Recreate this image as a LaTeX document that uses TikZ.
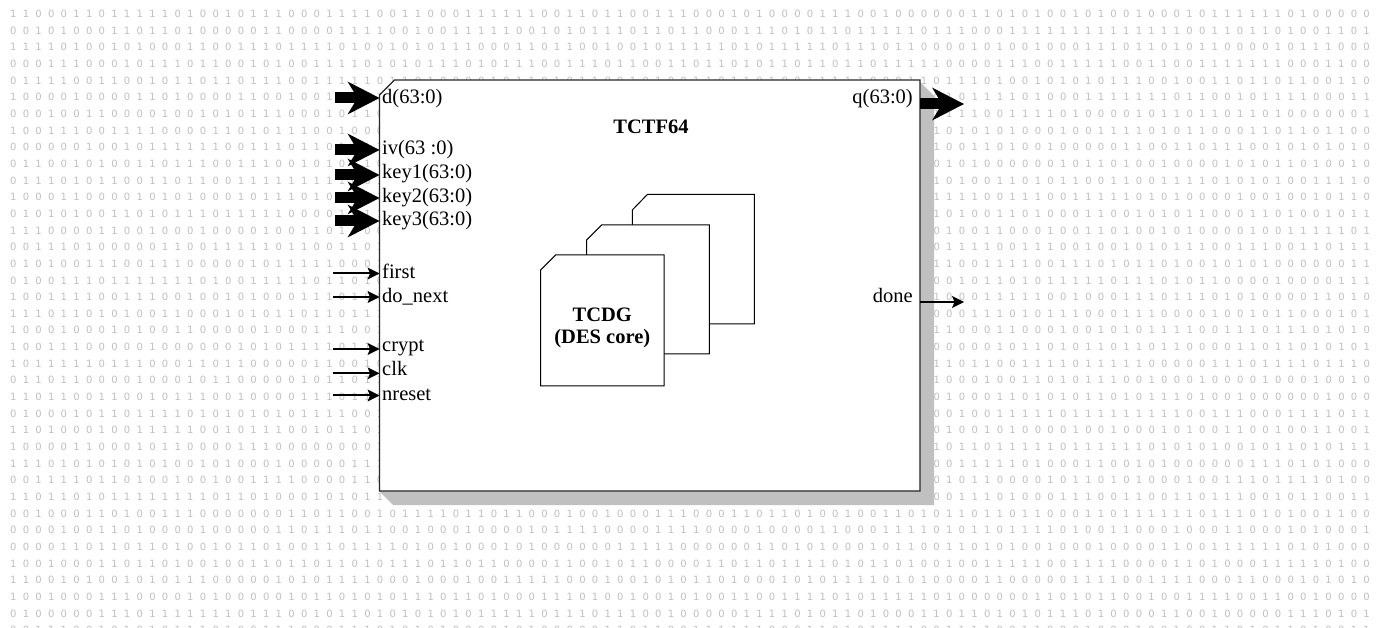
\documentclass[tikz,border=0pt]{standalone}
\usepackage{fontspec}
\setmainfont{Liberation Serif}
\newfontfamily\bgfont{DejaVu Sans}
\usetikzlibrary{arrows.meta,calc}
\definecolor{bgdigit}{RGB}{192,192,192}
\definecolor{shadowgray}{RGB}{192,192,192}
\protected\def\dg#1{\hbox to 12.65pt{\hss#1\hss}}
\tikzset{
  bgrow/.style={anchor=west, inner sep=0pt, outer sep=0pt, text=bgdigit, font=\bgfont\fontsize{10}{12}\selectfont},
  boxline/.style={draw=black!85, line width=1.2pt},
  cardline/.style={draw=black, line width=1pt, fill=white},
  lab/.style={anchor=base west, inner sep=0pt, font=\fontsize{20.5}{24}\selectfont},
  rlab/.style={anchor=base east, inner sep=0pt, font=\fontsize{20.5}{24}\selectfont},
  title/.style={anchor=base, inner sep=0pt, font=\bfseries\fontsize{20.5}{24}\selectfont},
  busarr/.style={draw=black, line width=11pt, -{Stealth[length=32pt, width=33pt, inset=10pt, line width=0pt]}},
  sigarr/.style={draw=black, line width=2pt, -{Stealth[length=12pt, width=12pt, inset=2.5pt, line width=0pt]}}
}
\begin{document}
\begin{tikzpicture}[x=1pt,y=-1pt]
\useasboundingbox[fill=white] (0,0) rectangle (1377,628);
% background binary texture (digits hidden under the block are left out)
\pgfmathsetseed{1377}
\foreach \r in {0,...,37}{
  \pgfmathsetmacro\rowy{14+16.65*\r}
  \gdef\rowtxt{}
  \foreach \c in {1,...,108}{
    \pgfmathrandominteger{\rdig}{0}{1}
    \pgfmathsetmacro\colx{7+12.65*(\c-0.5)}
    \pgfmathtruncatemacro\hidden{and(and(\rowy>84,\rowy<501),and(\colx>384,\colx<930))}
    \ifnum\hidden=1
      \xdef\rowtxt{\rowtxt\noexpand\dg{}}
    \else
      \xdef\rowtxt{\rowtxt\noexpand\dg{\rdig}}
    \fi
  }
  \node[bgrow] (bg\r) at (7,\rowy) {\rowtxt};
}
% main block
\node[minimum width=540.5pt, minimum height=411pt, inner sep=0pt, outer sep=0pt] (box) at (649.75,285.5) {};
\fill[shadowgray] ([yshift=-2pt]box.north east) -- ++(14,14) -- ++(0,409) -- ++(-541,0) -- ++(-14,-14) -- (box.south east) -- cycle;
\draw[boxline, fill=white] ([xshift=15pt]box.north west) -- (box.north east) -- (box.south east) -- (box.south west) -- ([yshift=-15pt]box.north west) -- cycle;
\node[title] (ttl) at (651,134) {TCTF64};
% stacked DES cores
\draw[cardline] (632.3,210) -- (647.5,194.3) -- (754.3,194.3) -- (754.3,324) -- (632.3,324) -- cycle;
\draw[cardline] (586.7,240) -- (601.7,225) -- (709.3,225) -- (709.3,354) -- (586.7,354) -- cycle;
\draw[cardline] (540.7,270) -- (555.7,255) -- (664,255) -- (664,386) -- (540.7,386) -- cycle;
\node[title] (core1) at (602.3,322) {TCDG};
\node[title] (core2) at (602.3,343.5) {(DES core)};
% port labels
\node[lab] (ld) at (382,104) {d(63:0)};
\node[lab] (liv) at (382,155) {iv(63 :0)};
\node[lab] (lk1) at (382,179) {key1(63:0)};
\node[lab] (lk2) at (382,202.5) {key2(63:0)};
\node[lab] (lk3) at (382,226) {key3(63:0)};
\node[lab] (lfirst) at (382,279) {first};
\node[lab] (lnext) at (382,302.5) {do\_next};
\node[lab] (lcrypt) at (382,352) {crypt};
\node[lab] (lclk) at (382,376) {clk};
\node[lab] (lrst) at (382,400.5) {nreset};
\node[rlab] (lq) at (913,104) {q(63:0)};
\node[rlab] (ldone) at (913,303) {done};
% arrow ends
\coordinate (ad) at (335,98);
\coordinate (aiv) at (335,150);
\coordinate (ak1) at (335,175);
\coordinate (ak2) at (335,198);
\coordinate (ak3) at (335,221);
\coordinate (afirst) at (333,273.5);
\coordinate (anext) at (333,297);
\coordinate (acrypt) at (333,349);
\coordinate (aclk) at (333,373.3);
\coordinate (arst) at (333,395.5);
\coordinate (aq) at (964,104);
\coordinate (adone) at (964,302);
% bus arrows
\draw[busarr] (ad) -- (ad -| box.west);
\draw[busarr] (aiv) -- (aiv -| box.west);
\draw[busarr] (ak1) -- (ak1 -| box.west);
\draw[busarr] (ak2) -- (ak2 -| box.west);
\draw[busarr] (ak3) -- (ak3 -| box.west);
\draw[busarr] (aq -| box.east) -- (aq);
% signal arrows
\draw[sigarr] (afirst) -- (afirst -| box.west);
\draw[sigarr] (anext) -- (anext -| box.west);
\draw[sigarr] (acrypt) -- (acrypt -| box.west);
\draw[sigarr] (aclk) -- (aclk -| box.west);
\draw[sigarr] (arst) -- (arst -| box.west);
\draw[sigarr] (adone -| box.east) -- (adone);
\end{tikzpicture}
\end{document}
